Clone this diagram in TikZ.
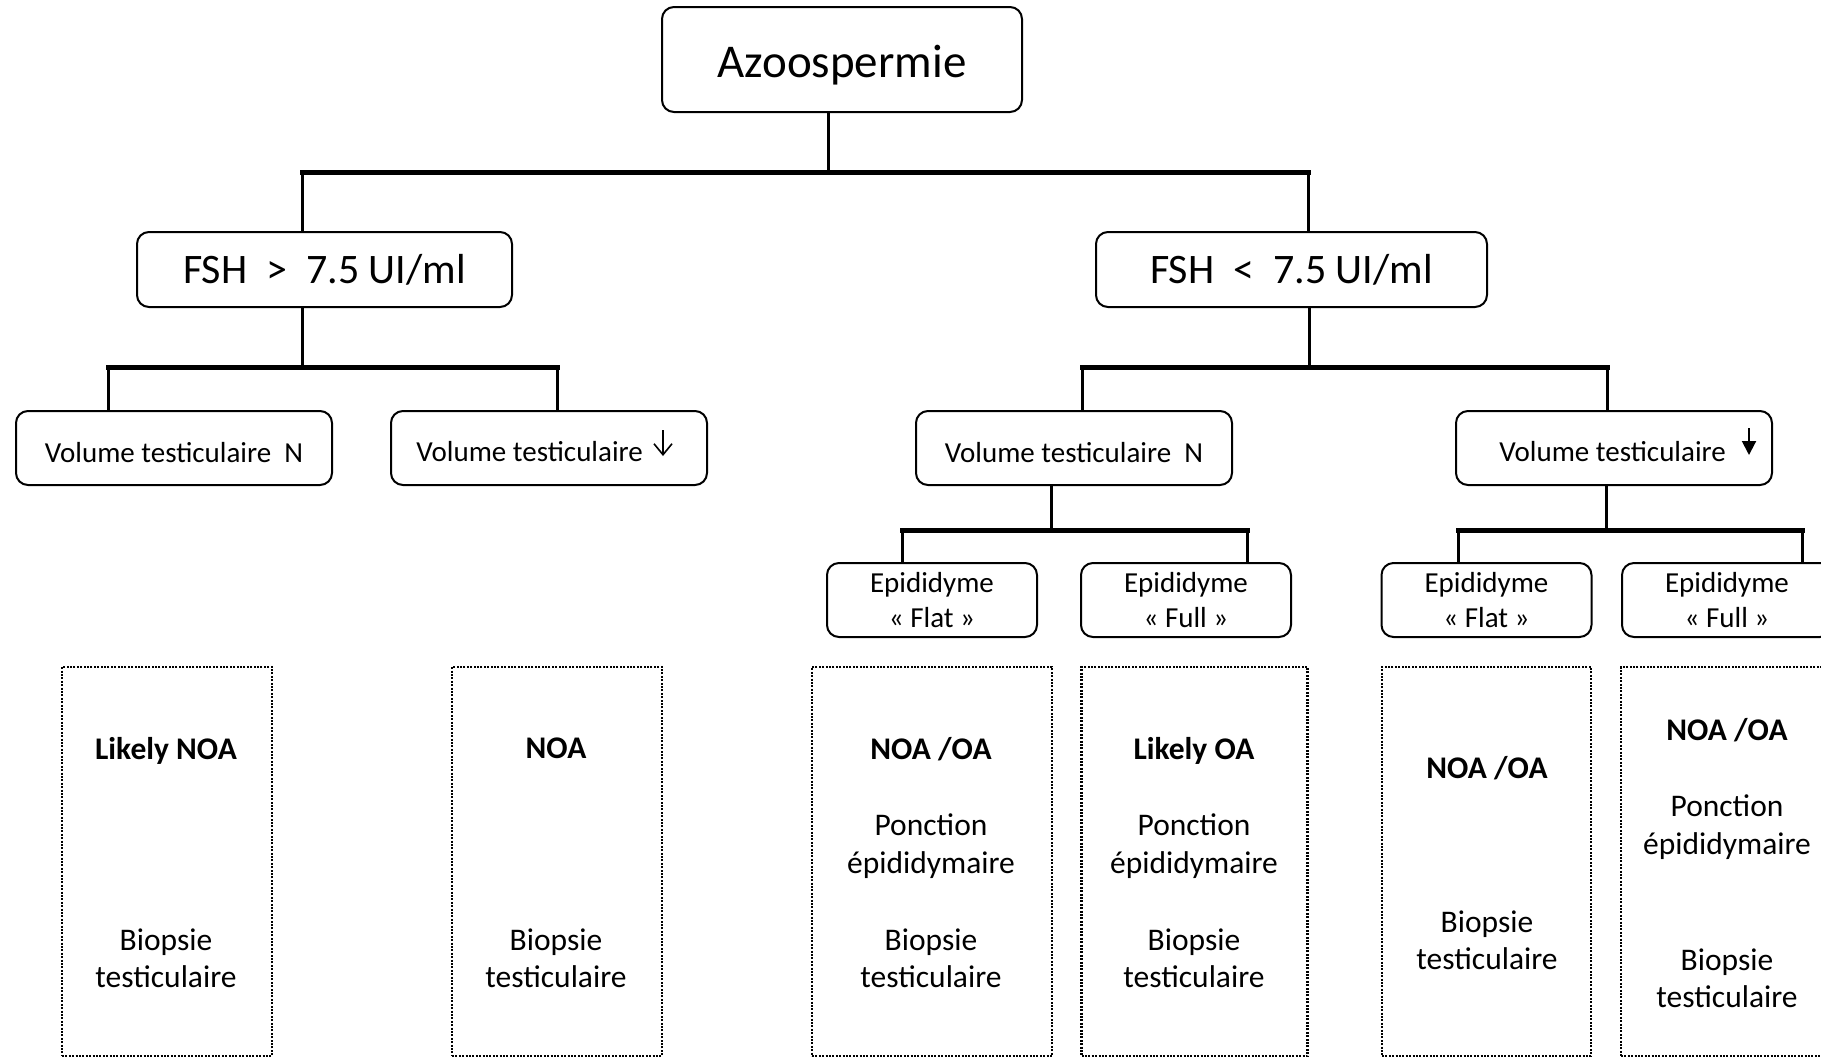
\documentclass[tikz,border=0pt]{standalone}
\usepackage{fontspec}
\setmainfont{Carlito}
\usetikzlibrary{arrows.meta}
\begin{document}
\begin{tikzpicture}[x=0.5pt,y=-0.5pt,
  box/.style={draw, line width=1pt, rounded corners=6pt, inner sep=0pt, align=center},
  volbox/.style={box, minimum width=158pt, minimum height=37pt, text height=14.2pt, text depth=0pt, font=\fontsize{14.5}{17.7}\selectfont},
  epibox/.style={box, minimum width=105pt, minimum height=37pt, font=\fontsize{14.5}{17.6}\selectfont},
  fshbox/.style={box, minimum height=37.5pt, font=\fontsize{21}{25}\selectfont},
  resbox/.style={draw, line width=1.15pt, dash pattern=on 1pt off 0.7pt, inner sep=0pt, minimum height=194.5pt},
  body/.style={inner sep=0pt, align=center, font=\fontsize{15.75}{18.75}\selectfont},
  title/.style={inner sep=0pt, text depth=0pt, font=\fontsize{15.75}{18.75}\selectfont\bfseries},
  vtxt/.style={inner sep=0pt, font=\fontsize{14.5}{17.7}\selectfont},
  conn/.style={line width=1.5pt},
  bar/.style={line width=2.5pt, line cap=rect},
]
\useasboundingbox (0,0) rectangle (1821,1056);
\clip (0,0) rectangle (1821,1056);

% top node
\node[box, minimum width=180pt, minimum height=52.5pt, text height=23pt, text depth=4.7pt, font=\fontsize{23.5}{28}\selectfont] (azoo) at (842,59.5) {Azoospermie};

% FSH
\node[fshbox, minimum width=187.5pt] (fshA) at (324.5,269.5) {FSH\ \ >\ \ 7.5 UI/ml};
\node[fshbox, minimum width=195.5pt] (fshB) at (1291.5,269.5) {FSH\ \ <\ \ 7.5 UI/ml};

% Volume
\node[volbox] (volA) at (174,448) {Volume testiculaire\ \ N};
\node[volbox] (volB) at (549,448) {};
\node[vtxt, anchor=base west] (volBt) at (416,461) {Volume testiculaire};
\node[volbox] (volC) at (1074,448) {Volume testiculaire\ \ N};
\node[volbox] (volD) at (1614,448) {};
\node[vtxt, anchor=base west] (volDt) at (1499,461) {Volume testiculaire};

% arrows in the text
\coordinate (arBt) at (663,430);
\coordinate (arBb) at (663,456);
\draw[line width=0.8pt, -{Straight Barb[length=5.5pt,width=9pt,line width=0.8pt]}] (arBt) -- (arBb);
\coordinate (arDt) at (1749,428);
\coordinate (arDb) at (1749,455);
\draw[line width=1pt, -{Triangle[length=7pt,width=7pt]}] (arDt) -- (arDb);

% Epididyme
\node[epibox] (epiA) at (932,600) {Epididyme\\« Flat »};
\node[epibox] (epiB) at (1186,600) {Epididyme\\« Full »};
\node[epibox] (epiC) at (1486.5,600) {Epididyme\\« Flat »};
\node[epibox] (epiD) at (1727,600) {Epididyme\\« Full »};

% result boxes
\node[resbox, minimum width=105pt] (resA) at (167,861.5) {};
\node[resbox, minimum width=105pt] (resB) at (557,861.5) {};
\node[resbox, minimum width=120pt] (resC) at (932,861.5) {};
\node[resbox, minimum width=113pt] (resD) at (1194.5,861.5) {};
\node[resbox, minimum width=104.5pt] (resE) at (1486.5,861.5) {};
\node[resbox, minimum width=106pt] (resF) at (1727,861.5) {};

% result texts
\node[title] (tA) at (166,748) {Likely NOA};
\node[body] (bA) at (166,958.5) {Biopsie\\testiculaire};
\node[title] (tB) at (556,748) {NOA};
\node[body] (bB) at (556,958.5) {Biopsie\\testiculaire};
\node[title] (tC) at (931,748) {NOA /OA};
\node[body] (pC) at (931,846) {Ponction\\épididymaire};
\node[body] (bC) at (931,958.5) {Biopsie\\testiculaire};
\node[title] (tD) at (1194,748) {Likely OA};
\node[body] (pD) at (1194,846) {Ponction\\épididymaire};
\node[body] (bD) at (1194,958.5) {Biopsie\\testiculaire};
\node[title] (tE) at (1487,767) {NOA /OA};
\node[body] (bE) at (1487,940.5) {Biopsie\\testiculaire};
\node[title] (tF) at (1727,729) {NOA /OA};
\node[body] (pF) at (1727,827) {Ponction\\épididymaire};
\node[body] (bF) at (1727,978.5) {Biopsie\\testiculaire};

% connectors level 1
\coordinate (j0) at (828,172);
\coordinate (b0L) at (302,172);
\coordinate (b0R) at (1308,172);
\draw[conn] (azoo.south -| j0) -- (j0);
\draw[bar] (b0L) -- (b0R);
\draw[conn] (b0L) -- (fshA.north -| b0L);
\draw[conn] (b0R) -- (fshB.north -| b0R);

% connectors level 2 left
\coordinate (j1) at (302,367);
\coordinate (b1L) at (108,367);
\coordinate (b1R) at (557,367);
\draw[conn] (fshA.south -| j1) -- (j1);
\draw[bar] (b1L) -- (b1R);
\draw[conn] (b1L) -- (volA.north -| b1L);
\draw[conn] (b1R) -- (volB.north -| b1R);

% connectors level 2 right
\coordinate (j2) at (1309,367);
\coordinate (b2L) at (1082,367);
\coordinate (b2R) at (1607,367);
\draw[conn] (fshB.south -| j2) -- (j2);
\draw[bar] (b2L) -- (b2R);
\draw[conn] (b2L) -- (volC.north -| b2L);
\draw[conn] (b2R) -- (volD.north -| b2R);

% connectors level 3
\coordinate (j3) at (1051,530);
\coordinate (b3L) at (902,530);
\coordinate (b3R) at (1247,530);
\draw[conn] (volC.south -| j3) -- (j3);
\draw[bar] (b3L) -- (b3R);
\draw[conn] (b3L) -- (epiA.north -| b3L);
\draw[conn] (b3R) -- (epiB.north -| b3R);

\coordinate (j4) at (1606,530);
\coordinate (b4L) at (1458,530);
\coordinate (b4R) at (1802,530);
\draw[conn] (volD.south -| j4) -- (j4);
\draw[bar] (b4L) -- (b4R);
\draw[conn] (b4L) -- (epiC.north -| b4L);
\draw[conn] (b4R) -- (epiD.north -| b4R);
\end{tikzpicture}
\end{document}
